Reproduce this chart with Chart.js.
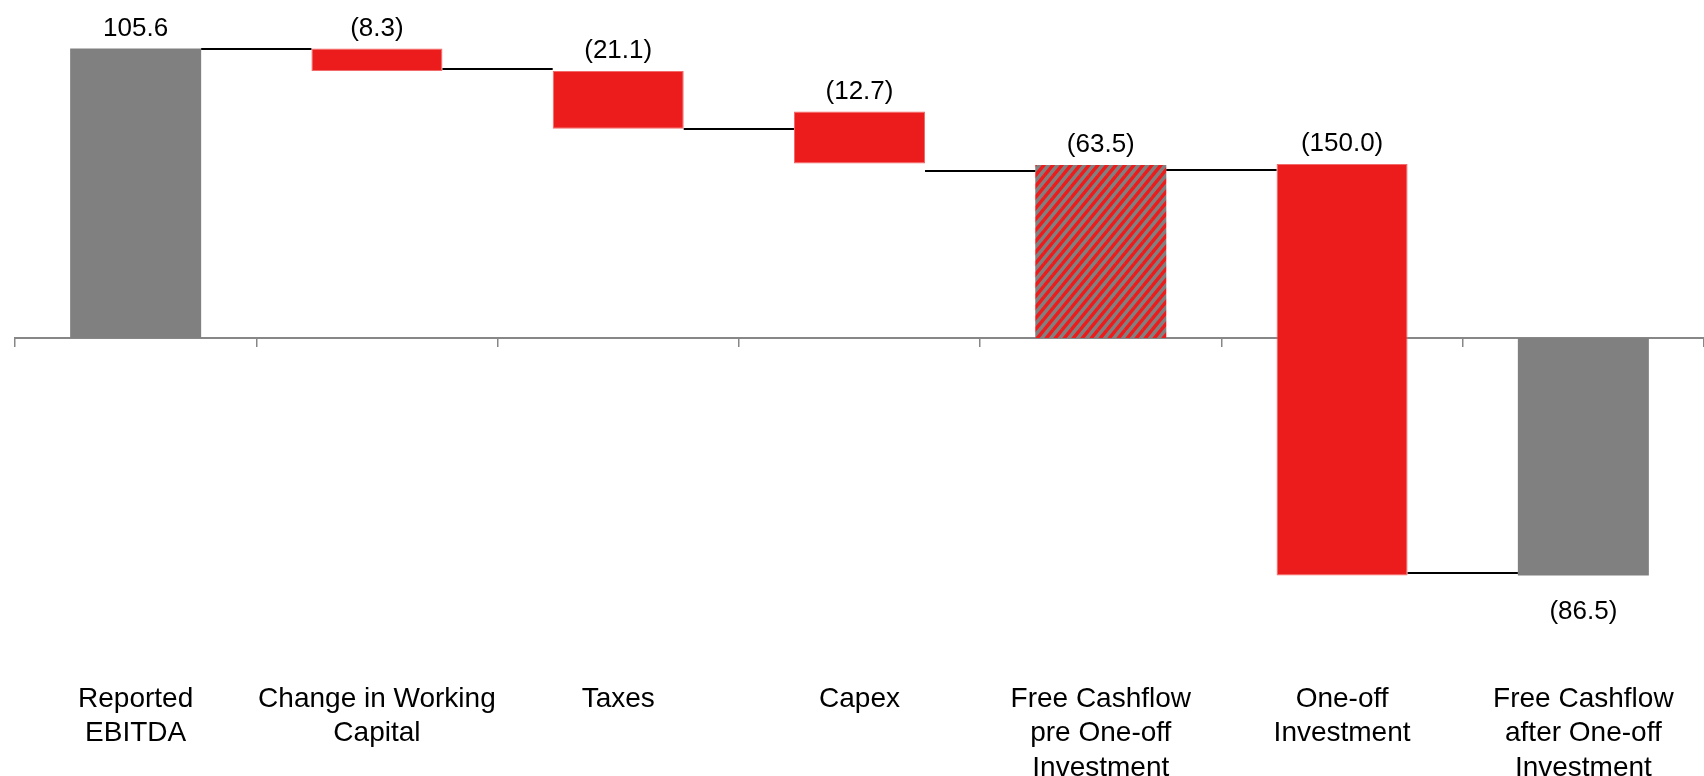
<!DOCTYPE html>
<html>
<head>
<meta charset="utf-8">
<script src="https://cdn.jsdelivr.net/npm/chart.js@4.4.1/dist/chart.umd.min.js"></script>
<style>
  html, body { margin: 0; padding: 0; background: #fff; width: 1704px; height: 776px; overflow: hidden; }
  /* canvas a bit taller than the window: the last label line sits on the bottom edge */
  #wrap { position: absolute; left: 0; top: 0; width: 1704px; height: 793px; }
</style>
</head>
<body>
<div id="wrap"><canvas id="bridge"></canvas></div>
<script>
// Cash flow bridge
const categories = [
    ['Reported', 'EBITDA'],
    ['Change in Working', 'Capital'],
    ['Taxes'],
    ['Capex'],
    ['Free Cashflow', 'pre One-off', 'Investment'],
    ['One-off', 'Investment'],
    ['Free Cashflow', 'after One-off', 'Investment']
];
const valueLabels = ['105.6', '(8.3)', '(21.1)', '(12.7)', '(63.5)', '(150.0)', '(86.5)'];
// floating bar ends as drawn
const barFrom = [0, 105.6, 97.4, 82.6, 0, 63.5, 0];
const barTo = [105.6, 97.4, 76.3, 63.7, 63.1, -86.6, -86.6];
// levels of the thin black joins between neighbouring bars
const connectorLevels = [105.3, 98.2, 76.3, 61.1, 61.2, -85.8];
const barKinds = ['total', 'step', 'step', 'step', 'subtotal', 'step', 'total'];
const yLimits = [-122.6, 123.3];

const GREY = '#808080';
const RED = '#ED1C1C';
const FONT = '"Liberation Sans", Arial, Helvetica, sans-serif';

const canvas = document.getElementById('bridge');

// grey with red "/" stripes for the subtotal bar
function stripePattern() {
    const w = 9, h = 11;
    const tile = document.createElement('canvas');
    tile.width = w; tile.height = h;
    const g = tile.getContext('2d');
    g.fillStyle = GREY;
    g.fillRect(0, 0, w, h);
    g.strokeStyle = RED;
    g.lineWidth = 3.4;
    g.beginPath();
    for (let k = -1; k <= 1; k++) {
        for (let m = -1; m <= 1; m++) {
            g.moveTo(k * w, h + m * h);
            g.lineTo(w + k * w, m * h);
        }
    }
    g.stroke();
    return canvas.getContext('2d').createPattern(tile, 'repeat');
}

const hatch = stripePattern();
const fills = barKinds.map(k => k === 'total' ? GREY : (k === 'subtotal' ? hatch : RED));
const borders = barKinds.map(k => k === 'step' ? 1 : 0);

// joins + value labels
const bridgeDecor = {
    id: 'bridgeDecor',
    afterDatasetsDraw(chart) {
        const { ctx } = chart;
        const y = chart.scales.y;
        const bars = chart.getDatasetMeta(0).data;
        ctx.save();
        ctx.strokeStyle = '#000';
        ctx.lineWidth = 2;
        connectorLevels.forEach((lvl, i) => {
            const py = Math.round(y.getPixelForValue(lvl));
            ctx.beginPath();
            ctx.moveTo(bars[i].x + bars[i].width / 2, py);
            ctx.lineTo(bars[i + 1].x - bars[i + 1].width / 2, py);
            ctx.stroke();
        });

        ctx.font = '26px ' + FONT;
        ctx.fillStyle = '#000';
        ctx.textAlign = 'center';
        ctx.textBaseline = 'middle';
        valueLabels.forEach((txt, i) => {
            const hi = Math.max(barFrom[i], barTo[i]);
            const lo = Math.min(barFrom[i], barTo[i]);
            // totals below zero get their label underneath
            const py = hi <= 0 ? y.getPixelForValue(lo) + 36 : y.getPixelForValue(hi) - 20;
            ctx.fillText(txt, bars[i].x, py);
        });
        ctx.restore();
    }
};

new Chart(canvas, {
    type: 'bar',
    data: {
        labels: categories,
        datasets: [{
            data: barFrom.map((f, i) => [f, barTo[i]]),
            backgroundColor: fills,
            borderColor: '#F36A6A',
            borderWidth: borders,
            borderSkipped: false,
            barPercentage: 0.543,
            categoryPercentage: 1
        }]
    },
    options: {
        animation: false,
        responsive: true,
        maintainAspectRatio: false,
        layout: { padding: { left: 15, right: 0, top: 0, bottom: 0 } },
        plugins: { legend: { display: false }, tooltip: { enabled: false } },
        scales: {
            x: {
                type: 'category',
                position: { y: 0 },
                offset: true,
                z: 1,
                grid: { display: true, offset: true, drawOnChartArea: false, drawTicks: true, tickLength: 8, color: '#878787', lineWidth: 1.5 },
                border: { display: true, color: '#878787', width: 2 },
                ticks: { display: false }
            },
            x2: {
                type: 'category',
                labels: categories,
                position: 'bottom',
                offset: true,
                grid: { display: false, drawTicks: false },
                border: { display: false },
                ticks: {
                    color: '#000',
                    padding: 8,
                    maxRotation: 0,
                    autoSkip: false,
                    font: { family: FONT, size: 28, lineHeight: '34.3px' }
                }
            },
            y: { display: false, min: yLimits[0], max: yLimits[1] }
        }
    },
    plugins: [bridgeDecor]
});
</script>
</body>
</html>
